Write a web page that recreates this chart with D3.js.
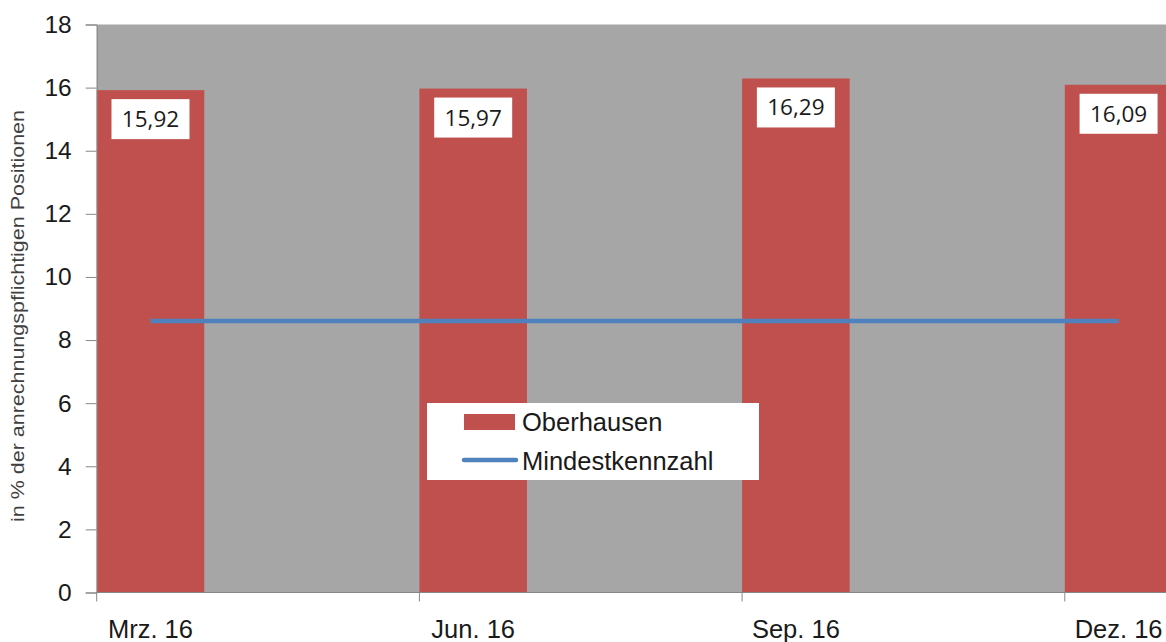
<!DOCTYPE html>
<html>
<head>
<meta charset="utf-8">
<script src="https://cdn.jsdelivr.net/npm/d3@7"></script>
<style>
  html, body { margin: 0; padding: 0; background: #ffffff; }
  svg { display: block; }
</style>
</head>
<body>
<svg id="chart" width="1166" height="642"></svg>
<script>
// Quarterly values
const categories = ["Mrz. 16", "Jun. 16", "Sep. 16", "Dez. 16"];
const oberhausen = [15.92, 15.97, 16.29, 16.09];
const mindestkennzahl = [8.6, 8.6, 8.6, 8.6];
const valueLabels = ["15,92", "15,97", "16,29", "16,09"];
const yTicks = [0, 2, 4, 6, 8, 10, 12, 14, 16, 18];
const seriesNames = ["Oberhausen", "Mindestkennzahl"];

const svg = d3.select("#chart");
const W = 1166, H = 642;

const plot = { left: 96.7, top: 24.5, bottom: 592.5, step: 322.7 };

const x = d3.scaleBand()
  .domain(categories)
  .range([plot.left, plot.left + plot.step * categories.length])
  .paddingInner(0).paddingOuter(0);

const y = d3.scaleLinear().domain([0, 18]).range([plot.bottom, plot.top]);

const barW = x.bandwidth() / 3;
const center = c => x(c) + barW / 2;

// Plot area background
svg.append("rect")
  .attr("x", plot.left).attr("y", plot.top)
  .attr("width", x.range()[1] - plot.left)
  .attr("height", plot.bottom - plot.top)
  .attr("fill", "#a6a6a6");

// Bars
svg.append("g").selectAll("rect")
  .data(categories)
  .join("rect")
  .attr("x", c => x(c))
  .attr("y", (c, i) => y(oberhausen[i]))
  .attr("width", barW)
  .attr("height", (c, i) => y(0) - y(oberhausen[i]))
  .attr("fill", "#c0504d");

// Threshold line
const line = d3.line()
  .x((d, i) => center(categories[i]))
  .y(d => y(d));
svg.append("path")
  .datum(mindestkennzahl)
  .attr("d", line)
  .attr("fill", "none")
  .attr("stroke", "#4f81bd")
  .attr("stroke-width", 4.5);

// Value labels in white boxes
const lbl = svg.append("g").selectAll("g")
  .data(categories)
  .join("g")
  .attr("transform", (c, i) => `translate(${center(c)},${y(oberhausen[i]) + 9})`);
lbl.append("rect")
  .attr("x", -39).attr("y", 0)
  .attr("width", 78).attr("height", 40)
  .attr("fill", "#ffffff");
lbl.append("text")
  .attr("x", 0).attr("y", 28)
  .attr("text-anchor", "middle")
  .attr("font-family", "'Open Sans', sans-serif")
  .attr("font-size", 22.5)
  .attr("fill", "#1a1a1a")
  .text((c, i) => valueLabels[i]);

// Y axis
const yAxis = d3.axisLeft(y).tickValues(yTicks).tickSize(11).tickPadding(14);
const gy = svg.append("g")
  .attr("transform", `translate(${plot.left},0)`)
  .call(yAxis);
gy.select(".domain").attr("stroke", "#868686");
gy.selectAll(".tick line").attr("stroke", "#868686");
gy.selectAll(".tick text")
  .attr("font-family", "'Liberation Sans', Arial, sans-serif")
  .attr("font-size", 24.5)
  .attr("fill", "#1a1a1a");

// X axis: ticks at category starts, labels at bar centres
const gx = svg.append("g");
gx.append("line")
  .attr("x1", plot.left).attr("x2", W + 10)
  .attr("y1", plot.bottom).attr("y2", plot.bottom)
  .attr("stroke", "#868686");
gx.selectAll("line.tick")
  .data(categories)
  .join("line")
  .attr("class", "tick")
  .attr("x1", c => x(c)).attr("x2", c => x(c))
  .attr("y1", plot.bottom).attr("y2", plot.bottom + 9)
  .attr("stroke", "#868686");
gx.selectAll("text")
  .data(categories)
  .join("text")
  .attr("x", c => center(c))
  .attr("y", 638)
  .attr("text-anchor", "middle")
  .attr("font-family", "'Liberation Sans', Arial, sans-serif")
  .attr("font-size", 25.5)
  .attr("fill", "#1a1a1a")
  .text(c => c);

// Y axis title
svg.append("text")
  .attr("transform", "translate(24,316) rotate(-90)")
  .attr("text-anchor", "middle")
  .attr("font-family", "'Liberation Sans', Arial, sans-serif")
  .attr("font-size", 19)
  .attr("fill", "#404040")
  .attr("textLength", 412)
  .attr("lengthAdjust", "spacingAndGlyphs")
  .text("in % der anrechnungspflichtigen Positionen");

// Legend
const lg = svg.append("g").attr("transform", "translate(427,403)");
lg.append("rect")
  .attr("width", 332).attr("height", 77)
  .attr("fill", "#ffffff");
lg.append("rect")
  .attr("x", 37).attr("y", 11)
  .attr("width", 51).attr("height", 16)
  .attr("fill", "#c0504d");
lg.append("line")
  .attr("x1", 37).attr("x2", 89)
  .attr("y1", 57).attr("y2", 57)
  .attr("stroke", "#4f81bd")
  .attr("stroke-width", 4.5)
  .attr("stroke-linecap", "round");
lg.selectAll("text")
  .data(seriesNames)
  .join("text")
  .attr("x", 95)
  .attr("y", (d, i) => 28 + i * 39)
  .attr("font-family", "'Liberation Sans', Arial, sans-serif")
  .attr("font-size", 25.5)
  .attr("fill", "#1a1a1a")
  .text(d => d);
</script>
</body>
</html>
